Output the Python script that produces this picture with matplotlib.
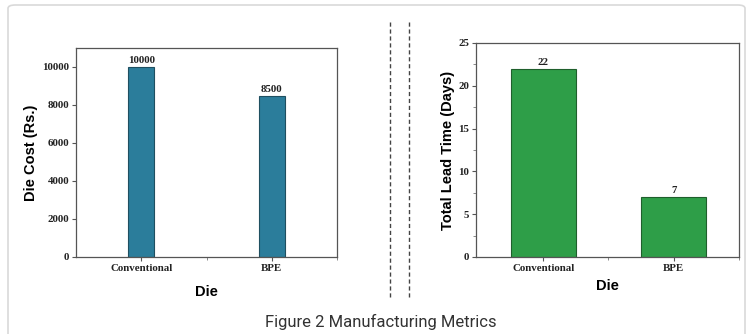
import matplotlib
matplotlib.use("Agg")
import matplotlib.pyplot as plt
from matplotlib.patches import FancyBboxPatch
from matplotlib.lines import Line2D
from matplotlib.ticker import MultipleLocator, FixedLocator

categories = ["Conventional", "BPE"]
die_cost = [10000, 8500]
lead_time = [22, 7]
caption = "Figure 2 Manufacturing Metrics"

W, H = 749, 334
fig = plt.figure(figsize=(W / 100, H / 100), dpi=100)
fig.patch.set_facecolor("white")

# outer frame
frame = FancyBboxPatch((8 / W, -0.05), (745 - 8) / W, (H - 5) / H + 0.05,
                       boxstyle="round,pad=0,rounding_size=0.01",
                       transform=fig.transFigure, facecolor="none",
                       edgecolor="#d9d9d9", linewidth=1.2)
fig.patches.append(frame)

serif = dict(family="Liberation Serif", weight="bold")
sans = dict(family="Liberation Sans", weight="bold")


def fax(l, r, t, b):
    return fig.add_axes([l / W, 1 - b / H, (r - l) / W, (b - t) / H])


def style(ax):
    for s in ax.spines.values():
        s.set_color("#555555")
        s.set_linewidth(0.9)
    ax.tick_params(axis="both", which="major", length=3, width=0.8,
                   color="#555555", labelsize=7.8, pad=2)
    ax.tick_params(axis="both", which="minor", length=2, width=0.6,
                   color="#777777")
    for lab in ax.get_xticklabels() + ax.get_yticklabels():
        lab.set_fontfamily("Liberation Serif")
        lab.set_fontweight("bold")
        lab.set_color("#222222")


x = [1, 2]

# left chart
ax1 = fax(76, 337, 48, 257)
ax1.bar(x, die_cost, width=0.2, color="#2b7d9b", edgecolor="#1f4f60",
        linewidth=0.8)
ax1.set_xlim(0.5, 2.5)
ax1.set_ylim(0, 11000)
ax1.set_yticks([0, 2000, 4000, 6000, 8000, 10000])
ax1.set_xticks(x)
ax1.set_xticklabels(categories)
ax1.xaxis.set_minor_locator(FixedLocator([1.5, 2.5]))
style(ax1)
for xi, v in zip(x, die_cost):
    ax1.text(xi, v + 100, f"{v}", ha="center", va="bottom", fontsize=7.8,
             color="#222222", **serif)
ax1.set_ylabel("Die Cost (Rs.)", fontsize=10.5, labelpad=3, **sans)
ax1.set_xlabel("Die", fontsize=10.5, labelpad=9, **sans)

# right chart
ax2 = fax(476, 739, 43, 257)
ax2.bar(x, lead_time, width=0.5, color="#2e9e48", edgecolor="#1f5f2c",
        linewidth=0.8)
ax2.set_xlim(0.485, 2.5)
ax2.set_ylim(0, 25)
ax2.set_yticks([0, 5, 10, 15, 20, 25])
ax2.set_xticks(x)
ax2.set_xticklabels(categories)
ax2.xaxis.set_minor_locator(FixedLocator([1.5, 2.5]))
ax2.yaxis.set_minor_locator(MultipleLocator(2.5))
style(ax2)
for xi, v in zip(x, lead_time):
    ax2.text(xi, v + 0.2, f"{v}", ha="center", va="bottom", fontsize=7.8,
             color="#222222", **serif)
ax2.set_ylabel("Total Lead Time (Days)", fontsize=10.5, labelpad=2, **sans)
ax2.set_xlabel("Die", fontsize=10.5, labelpad=4, **sans)

# dashed separators
for xp in (390, 409):
    fig.add_artist(Line2D([xp / W, xp / W], [1 - 22 / H, 1 - 297 / H],
                          transform=fig.transFigure, color="#444444",
                          linewidth=1.0, linestyle=(0, (3, 2))))

fig.text(381 / W, 1 - 322 / H, caption, ha="center", va="center",
         fontsize=12, family="Roboto", color="#333333")

fig.savefig("out.png", dpi=100)
